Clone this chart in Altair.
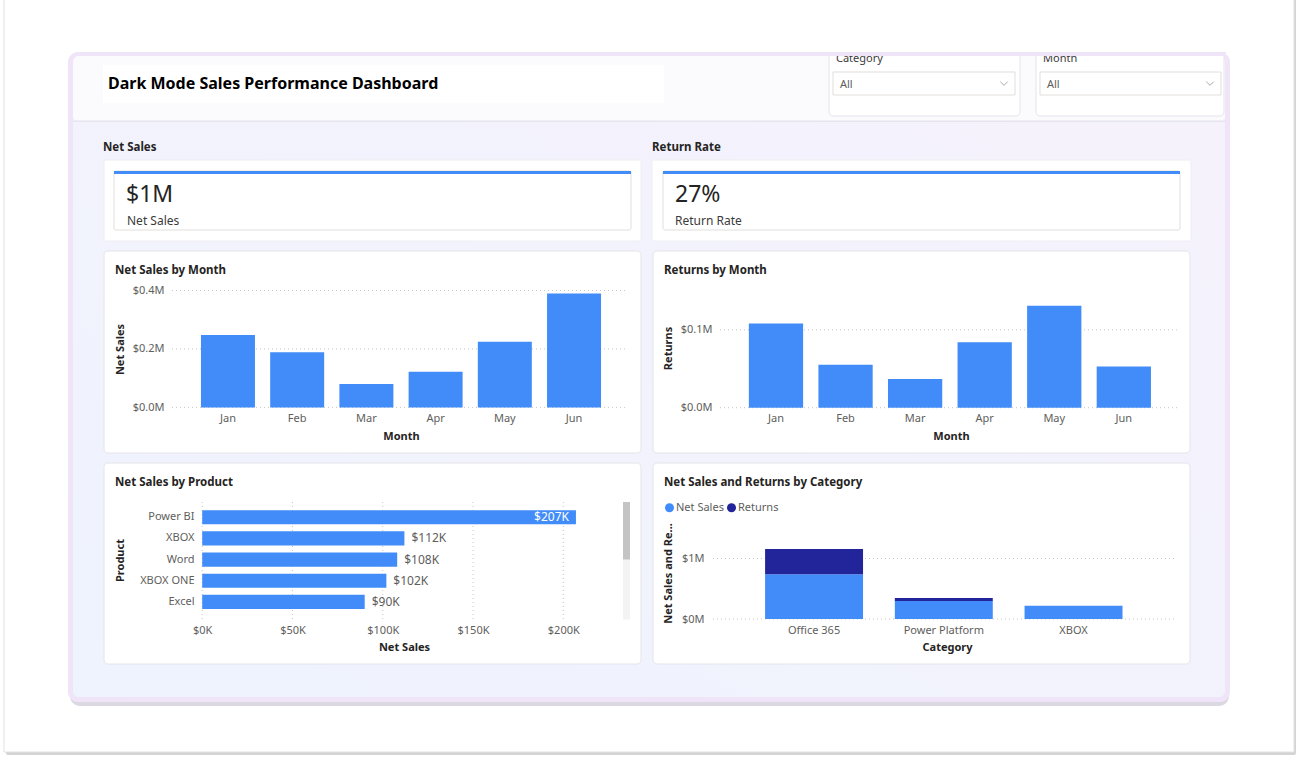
import altair as alt
import pandas as pd

# ---------------- data ----------------
months = ["Jan", "Feb", "Mar", "Apr", "May", "Jun"]
net_sales_by_month = [248000, 189000, 80000, 122000, 225000, 390000]
returns_by_month = [108000, 55000, 37000, 84000, 131000, 53000]

products = ["Power BI", "XBOX", "Word", "XBOX ONE", "Excel"]
product_sales = [207000, 112000, 108000, 102000, 90000]

categories = ["Office 365", "Power Platform", "XBOX"]
category_net_sales = [740000, 296000, 218000]
category_returns = [418000, 50000, 0]
series_names = ["Net Sales", "Returns"]

net_sales_ticks = [0, 200000, 400000]
returns_ticks = [0, 100000]
product_ticks = [0, 50000, 100000, 150000, 200000]
category_ticks = [0, 1000000]

net_total = sum(net_sales_by_month)
ret_total = sum(returns_by_month)
kpi_net_sales = "$" + str(round(net_total / 1e6)) + "M"
kpi_return_rate = str(round(100 * ret_total / (net_total + ret_total))) + "%"

# ---------------- style ----------------
W, H = 1298, 761
FONT = "Noto Sans"
BLUE = "#418CF8"
NAVY = "#22259A"
DARK = "#252423"
MID = "#3B3A39"
GRAY = "#605E5C"
GRID = "#C8C6C4"
CARD_STROKE = "#E4E4EB"

one = pd.DataFrame({"k": [0]})


def box(x, y, x2, y2, fill, stroke=None, radius=0, sw=1, opacity=None):
    kw = dict(fill=fill, cornerRadius=radius)
    if stroke is not None:
        kw["stroke"] = stroke
        kw["strokeWidth"] = sw
    if opacity is not None:
        kw["opacity"] = opacity
    return alt.Chart(one).mark_rect(**kw).encode(
        x=alt.value(x), x2=alt.value(x2), y=alt.value(y), y2=alt.value(y2))


def txt(s, x, y, size=12, color=DARK, weight="normal", align="left"):
    return alt.Chart(one).mark_text(
        text=s, font=FONT, fontSize=size, color=color, fontWeight=weight,
        align=align, baseline="middle").encode(x=alt.value(x), y=alt.value(y))


def chevron(x, y):
    return alt.Chart(one).mark_point(
        shape="M-1,-0.5L0,0.5L1,-0.5", filled=False, size=55, strokeWidth=1,
        color="#8A8886").encode(x=alt.value(x), y=alt.value(y))


def bottom_axis(axis_y, title, tx, ty, pad=5, values=None, expr=None):
    kw = dict(orient="bottom", offset=axis_y - H, title=title, titleX=tx,
              titleY=ty - axis_y, titleBaseline="middle", titleAlign="center",
              domain=False, ticks=False, tickSize=0, labelPadding=pad,
              grid=False, labelAngle=0, labelFlush=False, zindex=1)
    if values is not None:
        kw["values"] = values
    if expr is not None:
        kw["labelExpr"] = expr
    return alt.Axis(**kw)


def left_axis(axis_x, title, tx, ty, values=None, expr=None):
    kw = dict(orient="left", offset=-axis_x, title=title, titleX=tx - axis_x,
              titleY=ty, titleBaseline="middle", titleAlign="center",
              titleAngle=270, domain=False, ticks=False, tickSize=0,
              labelPadding=4, grid=False, zindex=1)
    if values is not None:
        kw["values"] = values
    if expr is not None:
        kw["labelExpr"] = expr
    return alt.Axis(**kw)


def hgrid(ticks, scale, axis, x1, x2):
    return alt.Chart(pd.DataFrame({"v": ticks})).mark_rule(
        color=GRID, strokeDash=[1, 3], strokeWidth=1).encode(
        y=alt.Y("v:Q", scale=scale, axis=axis), x=alt.value(x1), x2=alt.value(x2))


# ---------------- background / layout ----------------
body_grad = alt.LinearGradient(
    gradient="linear", x1=0, y1=1, x2=1, y2=0,
    stops=[alt.GradientStop(offset=0, color="#EEF3FD"),
           alt.GradientStop(offset=1, color="#F6F2FC")])

decor = [
    box(6, -5, 1296, 755, "#D4D4D4", radius=2),
    box(4, -5, 1294, 752, "#FFFFFF", stroke="#E2E2E2"),
    box(70, 56, 1229, 706, "#DCD8E2", radius=10),
    box(68, 52, 1230, 702, "#F0E5F8", radius=10),
    box(73, 56, 1225, 697, body_grad, radius=6),
    box(73, 56, 1225, 121, "#FBFBFE", radius=6),
    box(73, 120.5, 1225, 122, "#E6E4EC"),
    box(103, 65, 664, 103, "#FFFFFF"),
    txt("Dark Mode Sales Performance Dashboard", 108, 84, size=16, weight="bold",
        color="#000000"),
    # filters
    box(829, 44, 1020, 116, "#FFFFFF", stroke=CARD_STROKE, radius=4),
    box(1036, 44, 1224, 116, "#FFFFFF", stroke=CARD_STROKE, radius=4),
    txt("Category", 836, 59, size=11, color=MID),
    txt("Month", 1043, 59, size=11, color=MID),
    box(833, 72, 1015, 95, "#FFFFFF", stroke="#E1DFDD"),
    box(1040, 72, 1221, 95, "#FFFFFF", stroke="#E1DFDD"),
    txt("All", 840, 84.5, size=11, color=GRAY),
    txt("All", 1047, 84.5, size=11, color=GRAY),
    chevron(1004, 83.5),
    chevron(1210, 83.5),
    box(822, 30, 1226, 52, "#FFFFFF"),
    box(822, 52, 1226, 56, "#F0E5F8"),
    # KPI cards
    txt("Net Sales", 103, 148, size=11.5, weight="bold"),
    txt("Return Rate", 652, 148, size=11.5, weight="bold"),
    box(104, 160, 641, 241, "#FFFFFF", stroke="#EEEEF3", radius=2),
    box(652, 160, 1191, 241, "#FFFFFF", stroke="#EEEEF3", radius=2),
    box(114, 171, 631, 230, "#FFFFFF", stroke="#E1DFDD", radius=2),
    box(663, 171, 1180, 230, "#FFFFFF", stroke="#E1DFDD", radius=2),
    box(114, 171, 631, 174, BLUE),
    box(663, 171, 1180, 174, BLUE),
    txt(kpi_net_sales, 126, 195, size=23, color=DARK),
    txt("Net Sales", 127, 221, size=12, color=MID),
    txt(kpi_return_rate, 675, 195, size=23, color=DARK),
    txt("Return Rate", 675, 221, size=12, color=MID),
    # chart cards
    box(104, 251, 641, 453, "#FFFFFF", stroke=CARD_STROKE, radius=4),
    box(653, 251, 1190, 453, "#FFFFFF", stroke=CARD_STROKE, radius=4),
    box(104, 463, 641, 664, "#FFFFFF", stroke=CARD_STROKE, radius=4),
    box(653, 463, 1190, 664, "#FFFFFF", stroke=CARD_STROKE, radius=4),
    txt("Net Sales by Month", 115, 271, size=11.5, weight="bold"),
    txt("Returns by Month", 664, 271, size=11.5, weight="bold"),
    txt("Net Sales by Product", 115, 483, size=11.5, weight="bold"),
    txt("Net Sales and Returns by Category", 664, 483, size=11.5, weight="bold"),
    # scrollbar of the product visual
    box(623, 502, 630, 619.5, "#F3F3F3"),
    box(623, 502, 630, 559.5, "#C4C4C4"),
]

M_EXPR = "'$' + format(datum.value / 1000000, '.1f') + 'M'"

# ---------------- Net Sales by Month ----------------
nsm_y = alt.Scale(domain=[0, 400000], range=[407.4, 290.5], nice=False)
nsm_ax = left_axis(168, "Net Sales", 120.5, 349, net_sales_ticks, M_EXPR)
nsm_df = pd.DataFrame({"month": months, "sales": net_sales_by_month})
nsm = alt.layer(
    hgrid(net_sales_ticks, nsm_y, nsm_ax, 172, 625),
    alt.Chart(nsm_df).mark_bar(color=BLUE).encode(
        x=alt.X("month:N", sort=months,
                scale=alt.Scale(range=[193.35, 608.65], paddingInner=0.22, paddingOuter=0.11),
                axis=bottom_axis(407.4, "Month", 401, 436)),
        y=alt.Y("sales:Q", scale=nsm_y, axis=nsm_ax)),
)

# ---------------- Returns by Month ----------------
rm_y = alt.Scale(domain=[0, 150000], range=[407.7, 290.85], nice=False)
rm_ax = left_axis(716, "Returns", 668, 348, returns_ticks, M_EXPR)
rm_df = pd.DataFrame({"month": months, "returns": returns_by_month})
rm = alt.layer(
    hgrid(returns_ticks, rm_y, rm_ax, 720, 1177),
    alt.Chart(rm_df).mark_bar(color=BLUE).encode(
        x=alt.X("month:N", sort=months,
                scale=alt.Scale(range=[741.2, 1158.6], paddingInner=0.22, paddingOuter=0.11),
                axis=bottom_axis(407.7, "Month", 951, 436)),
        y=alt.Y("returns:Q", scale=rm_y, axis=rm_ax)),
)

# ---------------- Net Sales by Product ----------------
p_x = alt.Scale(domain=[0, 200000], range=[202.2, 563.3], nice=False)
p_y = alt.Scale(range=[506.7, 612.5], paddingInner=0.33, paddingOuter=0.165)
p_xax = bottom_axis(620, "Net Sales", 404, 647.5, pad=4, values=product_ticks,
                    expr="'$' + format(datum.value / 1000, '.0f') + 'K'")
p_yax = left_axis(198, "Product", 120, 560)
p_df = pd.DataFrame({"product": products, "sales": product_sales})
p_base = alt.Chart(p_df).transform_calculate(
    lbl="'$' + format(datum.sales / 1000, '.0f') + 'K'")
prod = alt.layer(
    alt.Chart(pd.DataFrame({"v": product_ticks})).mark_rule(
        color=GRID, strokeDash=[1, 3], strokeWidth=1).encode(
        x=alt.X("v:Q", scale=p_x, axis=p_xax), y=alt.value(502), y2=alt.value(619.5)),
    p_base.mark_bar(color=BLUE).encode(
        x=alt.X("sales:Q", scale=p_x, axis=p_xax),
        y=alt.Y("product:N", sort=products, scale=p_y, axis=p_yax)),
    p_base.transform_filter("datum.sales >= 200000").mark_text(
        align="right", dx=-7, color="white", font=FONT, fontSize=12, baseline="middle").encode(
        x=alt.X("sales:Q", scale=p_x, axis=p_xax),
        y=alt.Y("product:N", sort=products, scale=p_y, axis=p_yax),
        text="lbl:N"),
    p_base.transform_filter("datum.sales < 200000").mark_text(
        align="left", dx=7, color=GRAY, font=FONT, fontSize=12, baseline="middle").encode(
        x=alt.X("sales:Q", scale=p_x, axis=p_xax),
        y=alt.Y("product:N", sort=products, scale=p_y, axis=p_yax),
        text="lbl:N"),
)

# ---------------- Net Sales and Returns by Category ----------------
c_y = alt.Scale(domain=[0, 1500000], range=[619, 528.25], nice=False)
c_yax = left_axis(708, "Net Sales and Re...", 668, 573, category_ticks,
                  "'$' + format(datum.value / 1000000, '.0f') + 'M'")
c_rows = []
for i, c in enumerate(categories):
    c_rows.append({"category": c, "series": series_names[0], "value": category_net_sales[i], "ord": 0})
    c_rows.append({"category": c, "series": series_names[1], "value": category_returns[i], "ord": 1})
c_df = pd.DataFrame(c_rows)
cat = alt.layer(
    hgrid(category_ticks, c_y, c_yax, 713, 1177),
    alt.Chart(c_df).mark_bar().encode(
        x=alt.X("category:N", sort=categories,
                scale=alt.Scale(range=[749.2, 1138.4], paddingInner=0.245, paddingOuter=0.1225),
                axis=bottom_axis(619, "Category", 947, 647.7)),
        y=alt.Y("value:Q", stack="zero", scale=c_y, axis=c_yax),
        color=alt.Color("series:N", scale=alt.Scale(domain=series_names, range=[BLUE, NAVY]),
                        legend=alt.Legend(orient="none", legendX=664, legendY=502,
                                          direction="horizontal", title=None,
                                          symbolType="circle", symbolSize=81,
                                          symbolStrokeWidth=0, labelFontSize=11,
                                          labelColor=GRAY, labelFont=FONT,
                                          labelOffset=1, columnPadding=2, padding=0)),
        order=alt.Order("ord:Q")),
)

chart = alt.layer(*decor, nsm, rm, prod, cat).resolve_scale(
    x="independent", y="independent", color="independent"
).properties(
    width=W, height=H, padding=0, background="white",
    autosize=alt.AutoSizeParams(type="none"),
).configure_view(strokeWidth=0).configure_axis(
    labelFont=FONT, labelFontSize=11, labelColor=GRAY,
    titleFont=FONT, titleFontSize=11, titleFontWeight="bold", titleColor=DARK,
)

chart.save("out.html", embed_options={"renderer": "svg", "actions": False})
